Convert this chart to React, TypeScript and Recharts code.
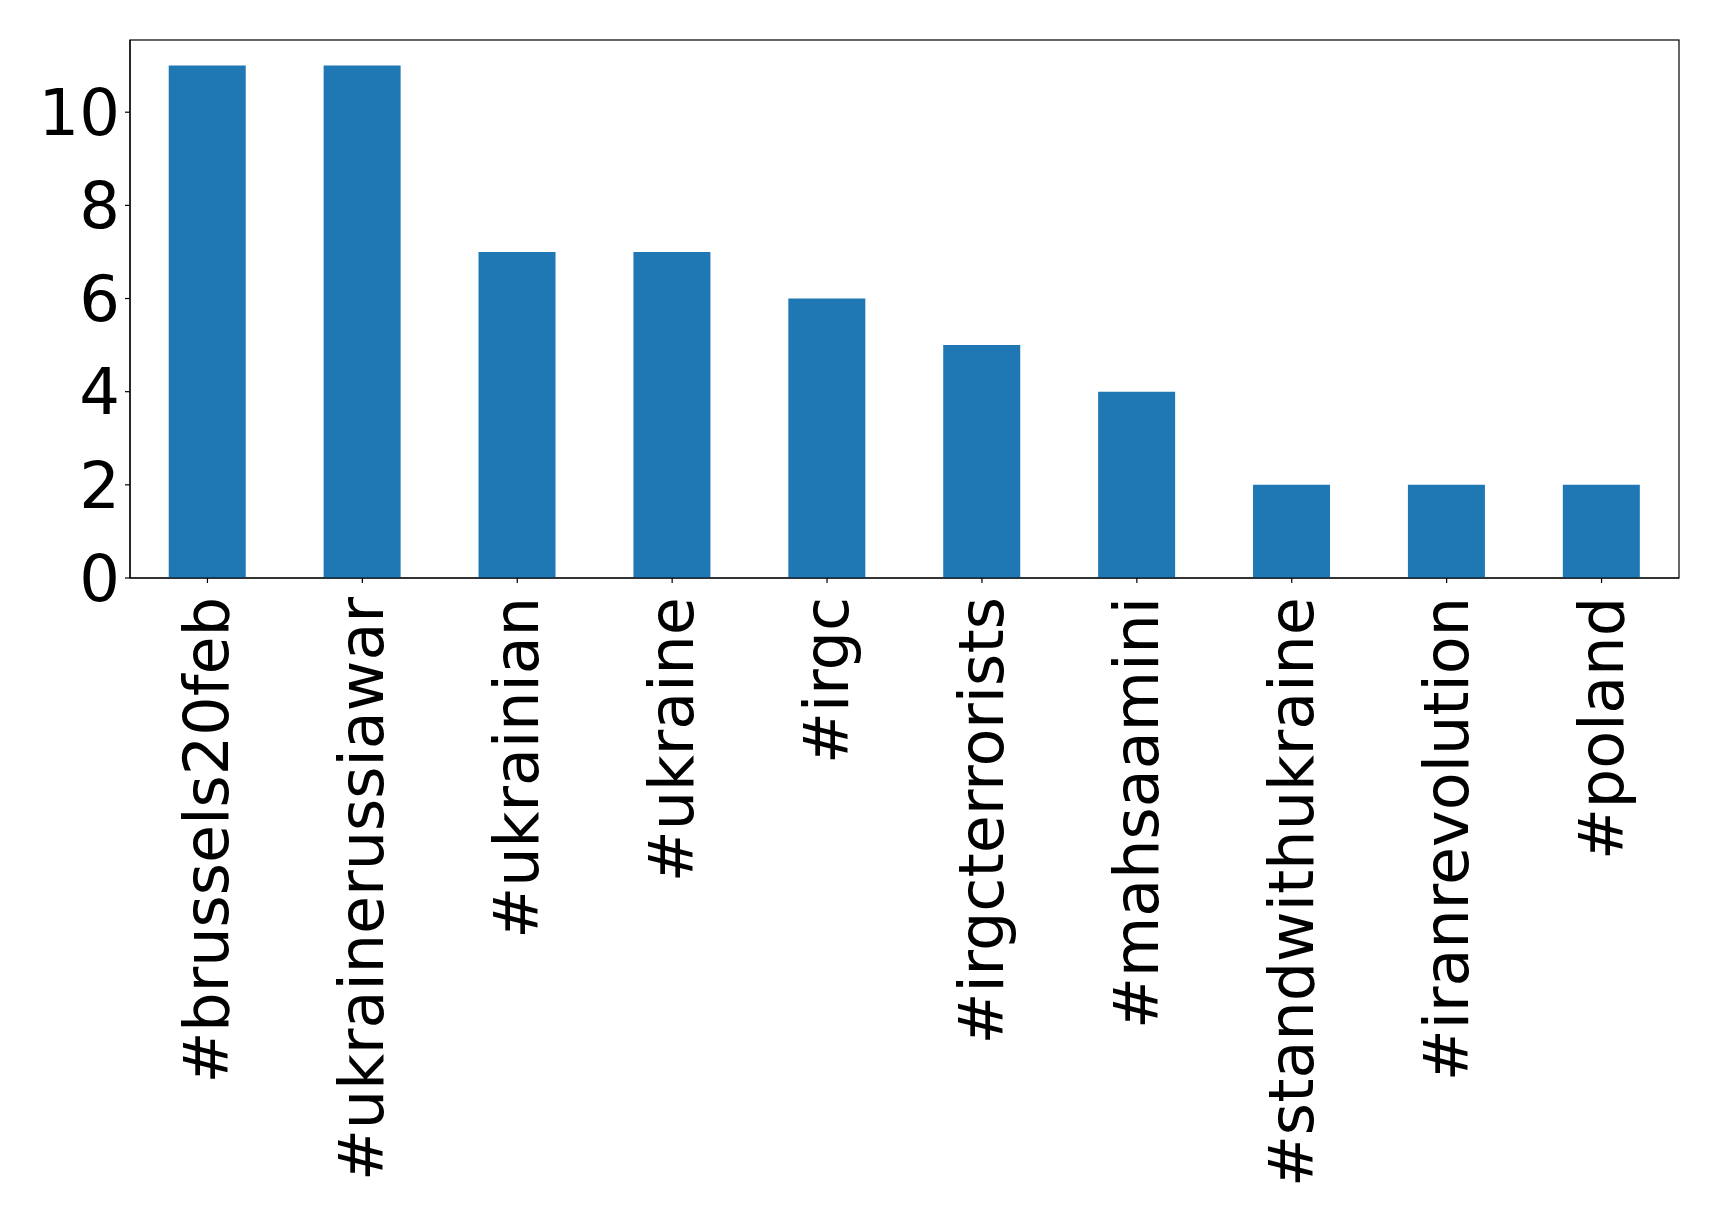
import React from 'react';
import { BarChart, Bar, XAxis, YAxis, usePlotArea } from 'recharts';

const tags = ['#brussels20feb', '#ukrainerussiawar', '#ukrainian', '#ukraine', '#irgc', '#irgcterrorists', '#mahsaamini', '#standwithukraine', '#iranrevolution', '#poland'];
const counts = [11, 11, 7, 7, 6, 5, 4, 2, 2, 2];
const yTicks = [0, 2, 4, 6, 8, 10];

const data = tags.map((tag, i) => ({ tag, count: counts[i] }));

const FONT = '"DejaVu Sans", sans-serif';

const XTick = (props: any) => {
  const { x, y, payload } = props;
  return (
    <text
      transform={`translate(${x},${y + 12}) rotate(-90)`}
      textAnchor="end"
      dy={21}
      fontSize={62}
      fontFamily={FONT}
      fill="#000"
    >
      {payload.value}
    </text>
  );
};

const Frame = () => {
  const area = usePlotArea();
  if (!area) return null;
  return (
    <rect
      x={area.x}
      y={area.y}
      width={area.width}
      height={area.height}
      fill="none"
      stroke="#000"
      strokeWidth={1.2}
    />
  );
};

export default function App() {
  return (
    <div style={{ position: 'absolute', left: 0, top: 0, background: '#fff' }}>
      <BarChart
        width={1719}
        height={1222}
        data={data}
        margin={{ top: 40, right: 40, bottom: 0, left: 0 }}
        barCategoryGap="25%"
      >
        <XAxis
          dataKey="tag"
          interval={0}
          height={644}
          tick={<XTick />}
          tickSize={5}
          tickLine={{ stroke: '#000', strokeWidth: 1.2 }}
          axisLine={{ stroke: '#000', strokeWidth: 1.2 }}
        />
        <YAxis
          domain={[0, 11.55]}
          ticks={yTicks}
          width={130}
          tickSize={5}
          tickMargin={5}
          tick={{ fontSize: 64, fontFamily: FONT, fill: '#000' }}
          tickLine={{ stroke: '#000', strokeWidth: 1.2 }}
          axisLine={{ stroke: '#000', strokeWidth: 1.2 }}
          allowDataOverflow
        />
        <Bar dataKey="count" fill="#1f77b4" isAnimationActive={false} />
        <Frame />
      </BarChart>
    </div>
  );
}
